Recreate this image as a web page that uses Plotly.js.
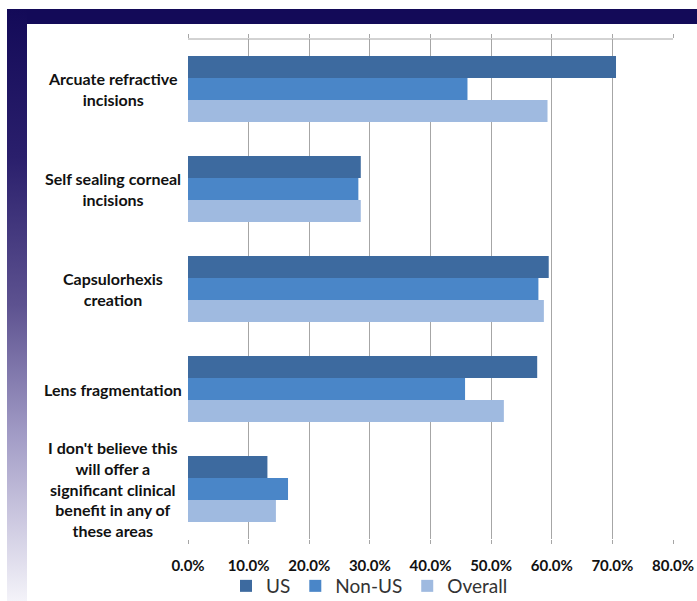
<!DOCTYPE html>
<html>
<head>
<meta charset="utf-8">
<script src="https://cdn.plot.ly/plotly-3.0.1.min.js"></script>
<style>
  html, body { margin: 0; padding: 0; background: #ffffff; }
  #wrap { position: relative; width: 697px; height: 601px; background: #ffffff; overflow: hidden; }
  #topband { position: absolute; left: 7px; top: 9px; width: 690px; height: 15px; background: #130a58; }
  #leftband { position: absolute; left: 7px; top: 9px; width: 20px; height: 592px;
    background: linear-gradient(#130a58 0%, #2a1f6c 25%, #5d5290 50%, #a29cc6 72%, #f4f3f9 100%); }
  #chart { position: absolute; left: 0; top: 0; width: 697px; height: 601px; }
</style>
</head>
<body>
<div id="wrap">
  <div id="topband"></div>
  <div id="leftband"></div>
  <div id="chart"></div>
</div>
<script>
// ---- data ----
const categories = [
  "Arcuate refractive incisions",
  "Self sealing corneal incisions",
  "Capsulorhexis creation",
  "Lens fragmentation",
  "I don't believe this will offer a significant clinical benefit in any of these areas"
];
const categoryLabels = [
  "Arcuate refractive<br>incisions",
  "Self sealing corneal<br>incisions",
  "Capsulorhexis<br>creation",
  "Lens fragmentation",
  "I don't believe this<br>will offer a<br>significant clinical<br>benefit in any of<br>these areas"
];
const seriesNames = ["US", "Non-US", "Overall"];
const usValues = [70.6, 28.5, 59.5, 57.6, 13.1];
const nonUsValues = [46.1, 28.1, 57.8, 45.7, 16.5];
const overallValues = [59.3, 28.5, 58.7, 52.1, 14.5];
const tickValues = [0, 10, 20, 30, 40, 50, 60, 70, 80];

const colors = ["#3d6a9f", "#4a86c8", "#9fbae0"];
const seriesValues = [usValues, nonUsValues, overallValues];

const traces = seriesNames.map((name, i) => ({
  type: "bar",
  orientation: "h",
  name: name,
  y: categories,
  x: seriesValues[i],
  marker: { color: colors[i], line: { width: 0 } },
  hoverinfo: "x+name"
}));

const labelFont = { family: "Lato, 'Open Sans', sans-serif", size: 16, color: "#111111", weight: 700 };

const annotations = categories.map((c, i) => ({
  xref: "paper", yref: "y",
  x: (113 - 188) / 485, y: c,
  xanchor: "center", yanchor: "middle",
  align: "center",
  text: "<b>" + categoryLabels[i] + "</b>",
  showarrow: false,
  font: labelFont
}));

const layout = {
  width: 697,
  height: 601,
  margin: { l: 188, r: 24, t: 39, b: 62, pad: 0, autoexpand: false },
  paper_bgcolor: "rgba(0,0,0,0)",
  plot_bgcolor: "rgba(0,0,0,0)",
  barmode: "group",
  bargap: 0.34,
  bargroupgap: 0,
  showlegend: true,
  legend: {
    orientation: "h",
    x: (226 - 188) / 485, xanchor: "left",
    y: -0.094, yanchor: "middle",
    font: { family: "Lato, 'Open Sans', sans-serif", size: 19, color: "#333333" },
    itemwidth: 30,
    traceorder: "normal",
    bgcolor: "rgba(0,0,0,0)"
  },
  xaxis: {
    range: [0, 80],
    tickmode: "array",
    tickvals: tickValues,
    ticktext: tickValues.map(v => "<b>" + v.toFixed(1) + "%</b>"),
    showgrid: true,
    gridcolor: "#a6a6a6",
    gridwidth: 1,
    zeroline: false,
    showline: false,
    ticks: "outside",
    ticklen: 4,
    tickcolor: "#a6a6a6",
    mirror: "ticks",
    ticklabelstandoff: 9,
    tickfont: { family: "Lato, 'Open Sans', sans-serif", size: 15, color: "#111111" },
    fixedrange: true
  },
  yaxis: {
    type: "category",
    range: [4.5, -0.5],
    showticklabels: false,
    showgrid: false,
    zeroline: false,
    showline: false,
    ticks: "",
    fixedrange: true
  },
  shapes: [
    { type: "line", xref: "paper", yref: "paper", x0: 0, x1: 1, y0: 1, y1: 1,
      line: { color: "#a6a6a6", width: 1 } }
  ],
  annotations: annotations
};

Plotly.newPlot("chart", traces, layout, { displayModeBar: false, staticPlot: true });
</script>
</body>
</html>
